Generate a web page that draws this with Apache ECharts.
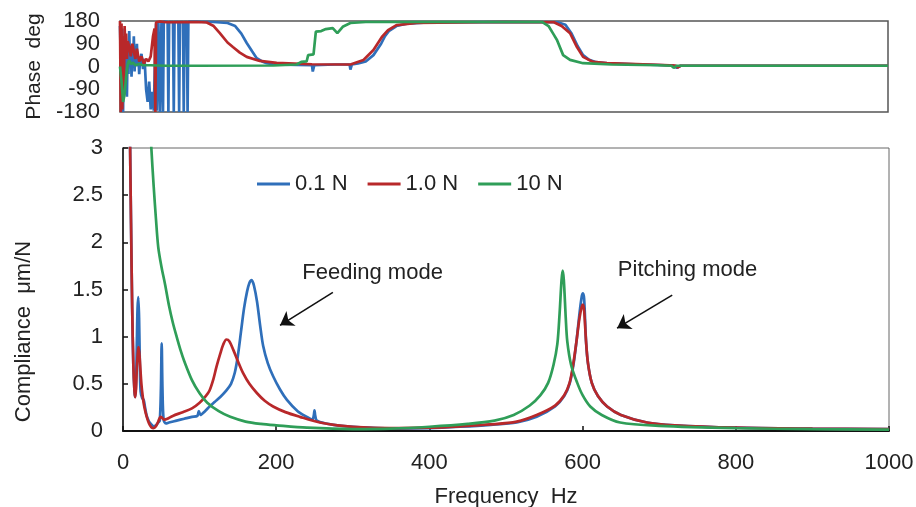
<!DOCTYPE html>
<html>
<head>
<meta charset="utf-8">
<script src="https://cdn.jsdelivr.net/npm/echarts@6/dist/echarts.min.js"></script>
<style>
  html, body { margin: 0; padding: 0; background: #fff; }
  #chart { width: 916px; height: 507px; }
</style>
</head>
<body>
<div id="chart"></div>
<script>
// Force levels shown in the legend
const seriesNames = ['0.1 N', '1.0 N', '10 N'];
const xTicks = [0, 200, 400, 600, 800, 1000];

// Phase (deg) vs frequency (Hz)
const phase01 = [
  [0,160],[2,-100],[3,150],[4,-180],[5,120],[6,-60],[7,100],[8,30],[9,-120],[10,90],[11,-30],[12,140],
  [13,20],[14,80],[15,-40],[16,60],[17,10],[18,120],[19,-20],[20,70],[21,30],[22,90],[23,0],[24,40],
  [25,-30],[26,20],[28,50],[30,-10],[32,30],[34,-90],[36,-140],[38,-60],[40,-170],[42,-100],[44,-175],
  [46,90],[47,170],[48,-175],[50,175],[52,-180],[54,178],[56,-180],[57,178],[62,176],[63,-180],[64,176],
  [69,176],[70,-180],[71,176],[76,176],[77,-180],[78,176],[82,176],[83,-180],[84,176],[87,176],[88,-180],
  [89,177],[100,177],[121,176],[140,172],[150,160],[158,130],[165,93],[172,60],[178,33],[185,20],[191,13],
  [200,8],[230,6],[250,5],[251,-20],[253,5],[280,8],[299,8],[300,-12],[302,8],[310,12],[320,20],[330,45],
  [340,90],[345,120],[350,140],[360,160],[375,170],[400,174],[500,176],[570,175],[580,165],[588,130],
  [596,80],[603,45],[610,28],[620,17],[635,12],[680,8],[720,4],[725,-5],[730,3],[800,3],[1000,3]
];
const phase10 = [
  [0,180],[1,-180],[2,170],[3,-170],[4,120],[5,-100],[6,160],[7,60],[8,130],[9,30],[10,100],[12,80],
  [14,40],[16,90],[18,60],[20,30],[22,70],[25,20],[28,40],[31,10],[34,30],[37,20],[40,40],[43,120],
  [45,150],[46,-180],[47,175],[48,170],[52,178],[60,175],[100,176],[113,174],[122,160],[130,132],
  [140,95],[147,77],[156,55],[165,38],[182,22],[204,14],[250,9],[300,8],[317,26],[330,65],[341,117],
  [349,144],[360,164],[386,172],[500,176],[565,175],[575,160],[586,132],[595,77],[603,38],[616,18],
  [634,13],[700,7],[723,4],[726,-4],[730,3],[1000,3]
];
const phase100 = [
  [0,0],[2,-60],[4,-140],[6,-110],[8,-40],[10,10],[12,25],[14,10],[17,15],[20,5],[25,10],[30,5],
  [40,5],[60,3],[100,3],[200,4],[230,8],[236,18],[243,20],[245,45],[252,48],[255,138],[262,140],
  [268,148],[277,152],[283,132],[290,157],[300,172],[320,176],[550,176],[558,160],[564,130],[569,105],
  [577,45],[586,26],[603,13],[640,8],[700,5],[718,3],[721,-5],[725,3],[1000,3]
];

// Compliance (um/N) vs frequency (Hz)
const comp01 = [
  [4,8],[7,5],[9,3.2],[10.5,2.2],[12,1.3],[13.5,0.7],[15,0.42],[16,0.36],[17,0.5],[18,0.9],[19,1.3],
  [20,1.42],[21,1.2],[22,0.7],[23,0.42],[25,0.35],[27,0.33],[29,0.24],[31,0.16],[34,0.1],[37,0.07],
  [40,0.05],[43,0.06],[46,0.09],[48,0.11],[49.5,0.45],[50.5,0.93],[51.5,0.45],[53,0.12],[56,0.08],
  [60,0.09],[70,0.11],[80,0.13],[90,0.15],[97,0.16],[99,0.21],[101,0.17],[107,0.21],[113,0.26],
  [120,0.31],[127,0.36],[135,0.43],[141,0.5],[146,0.62],[150,0.8],[154,1.05],[158,1.3],[162,1.48],
  [165,1.57],[168,1.6],[171,1.54],[175,1.37],[179,1.12],[183,0.9],[189,0.72],[196,0.58],[205,0.44],
  [214,0.33],[228,0.21],[240,0.15],[247,0.12],[249,0.16],[250,0.22],[251,0.16],[253,0.11],[265,0.08],
  [285,0.055],[320,0.035],[360,0.025],[400,0.03],[440,0.045],[480,0.065],[514,0.09],[540,0.15],
  [564,0.26],[576,0.37],[583,0.5],[588,0.7],[592,0.95],[596,1.25],[599,1.43],[600.5,1.46],[602,1.4],
  [604.5,0.95],[607,0.72],[612,0.51],[620,0.37],[632,0.26],[650,0.17],[684,0.09],[720,0.06],
  [800,0.035],[900,0.025],[1000,0.02]
];
const comp10 = [
  [4,8],[7,5],[9,3.2],[10.5,2.2],[12,1.3],[13.5,0.7],[15,0.42],[16,0.36],[17,0.45],[18,0.65],
  [19.5,0.85],[20.5,0.89],[22,0.75],[24,0.5],[26,0.35],[28,0.25],[31,0.15],[34,0.08],[37,0.04],
  [40,0.03],[43,0.05],[46,0.1],[49,0.15],[51,0.14],[54,0.12],[58,0.13],[65,0.16],[78,0.2],[90,0.24],
  [100,0.3],[108,0.37],[113,0.43],[118,0.55],[122,0.68],[127,0.82],[131,0.92],[135,0.97],[139,0.95],
  [144,0.86],[150,0.74],[157,0.61],[165,0.5],[175,0.4],[185,0.32],[196,0.26],[212,0.2],[231,0.15],
  [257,0.09],[280,0.06],[320,0.035],[360,0.03],[400,0.035],[440,0.05],[480,0.07],[514,0.1],
  [540,0.17],[564,0.27],[576,0.38],[583,0.51],[588,0.72],[592,0.95],[596,1.2],[599,1.32],
  [600.5,1.34],[602,1.28],[604.5,0.95],[607,0.72],[612,0.51],[620,0.37],[632,0.26],[650,0.17],
  [684,0.09],[720,0.06],[800,0.035],[900,0.025],[1000,0.02]
];
const comp100 = [
  [30,4.5],[34,3.5],[37,3.0],[40,2.6],[43,2.25],[46,1.95],[50,1.75],[55,1.55],[60,1.33],[65,1.15],
  [70,1.0],[75,0.86],[80,0.74],[90,0.54],[100,0.4],[110,0.3],[125,0.21],[140,0.15],[160,0.1],
  [180,0.075],[200,0.06],[240,0.035],[300,0.02],[350,0.025],[400,0.045],[450,0.075],[485,0.11],
  [510,0.17],[531,0.27],[545,0.38],[555,0.51],[562,0.7],[567,0.92],[570,1.25],[572.5,1.6],[574,1.7],
  [575.5,1.6],[578,1.2],[580,0.95],[585,0.7],[593,0.51],[600,0.38],[610,0.26],[625,0.17],[649,0.09],
  [700,0.055],[800,0.03],[900,0.02],[1000,0.015]
];

// Mode annotations: [label, text anchor (Hz, um/N), arrow tail, arrow head]
const modeNotes = [
  ['Feeding mode',  [234, 1.675], [274, 1.47], [205, 1.12]],
  ['Pitching mode', [646, 1.71],  [717, 1.44], [645, 1.09]]
];

const colors = ['#2f6fba', '#b8282a', '#2f9e58'];
const font = 'Liberation Sans, Arial, sans-serif';
const txt = { fontFamily: font, fontSize: 22, color: '#222' };
const plain = v => String(v);

const chart = echarts.init(document.getElementById('chart'), null, { renderer: 'canvas' });

function lineSeries(name, data, xi, yi, color, smooth) {
  return {
    name: name, type: 'line', data: data, xAxisIndex: xi, yAxisIndex: yi,
    showSymbol: false, symbol: 'none', smooth: smooth, clip: true,
    lineStyle: { color: color, width: 2.7 }, itemStyle: { color: color },
    emphasis: { disabled: true }
  };
}

const series = [
  lineSeries(seriesNames[0], phase01, 0, 0, colors[0], false),
  lineSeries(seriesNames[1], phase10, 0, 0, colors[1], false),
  lineSeries(seriesNames[2], phase100, 0, 0, colors[2], false),
  lineSeries(seriesNames[0], comp01, 1, 1, colors[0], 0.3),
  lineSeries(seriesNames[1], comp10, 1, 1, colors[1], 0.3),
  lineSeries(seriesNames[2], comp100, 1, 1, colors[2], 0.3)
];

// arrows and texts hang off the last compliance series
series[5].markLine = {
  silent: true, symbol: ['none', 'arrow'], symbolSize: 13, animation: false,
  label: { show: false },
  lineStyle: { color: '#111', width: 1.6, type: 'solid' },
  data: modeNotes.map(n => [{ coord: n[2] }, { coord: n[3] }])
};
series[5].markPoint = {
  silent: true, symbol: 'circle', symbolSize: 0, animation: false,
  data: modeNotes.map(n => ({
    coord: n[1],
    label: { show: true, position: 'right', distance: 0, formatter: n[0], ...txt }
  }))
};

chart.setOption({
  animation: false,
  backgroundColor: '#fff',
  textStyle: { fontFamily: font },
  legend: {
    data: seriesNames, left: 252, top: 168, icon: 'rect',
    itemWidth: 33, itemHeight: 3, itemGap: 20, selectedMode: false,
    textStyle: txt
  },
  grid: [
    { left: 120, top: 21, width: 768, height: 91, outerBoundsMode: 'none', containLabel: false,
      show: true, borderColor: '#555', borderWidth: 1.5, backgroundColor: 'transparent' },
    { left: 123, top: 148, width: 766, height: 283, outerBoundsMode: 'none', containLabel: false,
      show: true, borderColor: '#666', borderWidth: 1, backgroundColor: 'transparent' }
  ],
  xAxis: [
    { type: 'value', gridIndex: 0, min: 0, max: 1000, interval: 200,
      axisLine: { show: false }, axisTick: { show: false }, axisLabel: { show: false }, splitLine: { show: false } },
    { type: 'value', gridIndex: 1, min: 0, max: 1000, interval: 200,
      axisLine: { show: true, onZero: false, lineStyle: { color: '#111', width: 2 } },
      axisTick: { show: true, inside: true, length: 5, lineStyle: { color: '#111', width: 1.5 } },
      axisLabel: { ...txt, margin: 21, formatter: plain, customValues: xTicks },
      splitLine: { show: false },
      name: 'Frequency  Hz', nameLocation: 'middle', nameGap: 55, nameTextStyle: txt }
  ],
  yAxis: [
    { type: 'value', gridIndex: 0, min: -180, max: 180, interval: 90,
      axisLine: { show: false }, axisTick: { show: false },
      axisLabel: { ...txt, margin: 20 }, splitLine: { show: false },
      name: 'Phase  deg', nameLocation: 'middle', nameRotate: 90, nameGap: 62,
      nameTextStyle: { ...txt, fontSize: 21 } },
    { type: 'value', gridIndex: 1, min: 0, max: 3, interval: 0.5,
      axisLine: { show: true, onZero: false, lineStyle: { color: '#111', width: 1.5 } },
      axisTick: { show: true, inside: true, length: 5, lineStyle: { color: '#111', width: 1.5 } },
      axisLabel: { ...txt, margin: 20 }, splitLine: { show: false },
      name: 'Compliance  \u03bcm/N', nameLocation: 'middle', nameRotate: 90, nameGap: 88,
      nameTextStyle: { ...txt, padding: [0, 84, 0, 0] } }
  ],
  series: series
});
</script>
</body>
</html>
